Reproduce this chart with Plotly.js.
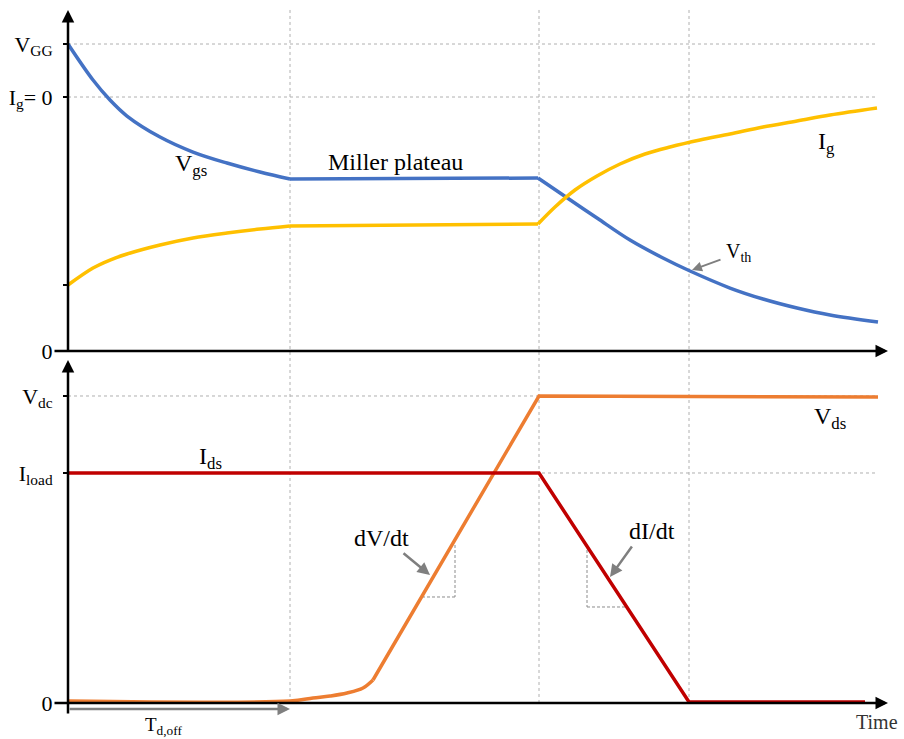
<!DOCTYPE html>
<html>
<head>
<meta charset="utf-8">
<script src="https://cdn.plot.ly/plotly-3.0.1.min.js"></script>
<style>html,body{margin:0;padding:0;background:#fff;}#chart{width:904px;height:739px;}</style>
</head>
<body>
<div id="chart"></div>
<script>
// ---- data (time units, values in arbitrary units) ----
const vgsT = [0,25,42,59,92,125,159,192,222,470,495,529,562,595,622,662,695,729,762,810];
const vgsV = [307,271,251,235,214,199,188,179,172,173,156,133,111,93,80,63,52,43,36,29];
const igT  = [0,25,42,59,92,125,159,192,222,470,487,507,529,552,577,602,632,662,695,729,762,809];
const igV  = [66,83,91,97,106,113,118,122,125,127,144,161,175,187,197,204,211,217,224,230,236,243];
const vdsT = [0,222,245,262,279,295,305,471,810];
const vdsV = [2,2,5,7,10,15,23,307,306];
const idsT = [0,471,621,797];
const idsV = [230,230,1,1];
const phaseT = [222,471,621];          // t1, t2, t3 boundaries
const topTickVals = [0,66,254,307];
const topTickText = ['0','','I<sub>g</sub>= 0','V<sub>GG</sub>'];
const botTickVals = [0,230,307];
const botTickText = ['0','I<sub>load</sub>','V<sub>dc</sub>'];
const VGG = 307, IG0 = 254, VDC = 307, ILOAD = 230;

const FONT = '"Liberation Serif", "Times New Roman", serif';
const C_VGS = '#4472C4', C_IG = '#FFC000', C_VDS = '#ED7D31', C_IDS = '#C00000';
const LW = 3.5;

function seg(t, v, a, b, shape, color, ya) {
  return {x: t.slice(a, b + 1), y: v.slice(a, b + 1), type: 'scatter', mode: 'lines',
    line: {color: color, width: LW, shape: shape, smoothing: 1}, yaxis: ya, xaxis: 'x',
    hoverinfo: 'skip', showlegend: false};
}

const traces = [
  seg(vgsT, vgsV, 0, 8, 'spline', C_VGS, 'y'),
  seg(vgsT, vgsV, 8, 9, 'linear', C_VGS, 'y'),
  seg(vgsT, vgsV, 9, vgsT.length - 1, 'spline', C_VGS, 'y'),
  seg(igT, igV, 0, 8, 'spline', C_IG, 'y'),
  seg(igT, igV, 8, 9, 'linear', C_IG, 'y'),
  seg(igT, igV, 9, igT.length - 1, 'spline', C_IG, 'y'),
  seg(vdsT, vdsV, 0, 6, 'spline', C_VDS, 'y2'),
  seg(vdsT, vdsV, 6, vdsT.length - 1, 'linear', C_VDS, 'y2'),
  seg(idsT, idsV, 0, idsT.length - 1, 'linear', C_IDS, 'y2')
];

const guide = {color: '#b0b0b0', width: 1, dash: '3px,3px'};
const tri = {color: '#8c8c8c', width: 1, dash: '3px,2px'};
const shapes = [];
phaseT.forEach(t => shapes.push({type: 'line', xref: 'x', yref: 'paper', x0: t, x1: t, y0: 0.0238, y1: 0.995, line: guide, layer: 'below'}));
shapes.push({type: 'line', xref: 'x', yref: 'y', x0: 0, x1: 809, y0: VGG, y1: VGG, line: guide, layer: 'below'});
shapes.push({type: 'line', xref: 'x', yref: 'y', x0: 0, x1: 809, y0: IG0, y1: IG0, line: guide, layer: 'below'});
shapes.push({type: 'line', xref: 'x', yref: 'y2', x0: 0, x1: 809, y0: VDC, y1: VDC, line: guide, layer: 'below'});
shapes.push({type: 'line', xref: 'x', yref: 'y2', x0: 0, x1: 809, y0: ILOAD, y1: ILOAD, line: guide, layer: 'below'});
// slope triangles
shapes.push({type: 'line', xref: 'x', yref: 'y2', x0: 387, x1: 387, y0: 158, y1: 106, line: tri, layer: 'below'});
shapes.push({type: 'line', xref: 'x', yref: 'y2', x0: 354, x1: 387, y0: 106, y1: 106, line: tri, layer: 'below'});
shapes.push({type: 'line', xref: 'x', yref: 'y2', x0: 519, x1: 519, y0: 153, y1: 96, line: tri, layer: 'below'});
shapes.push({type: 'line', xref: 'x', yref: 'y2', x0: 519, x1: 557, y0: 96, y1: 96, line: tri, layer: 'below'});

function txt(x, y, yref, text, size, extra) {
  return Object.assign({x: x, y: y, xref: 'x', yref: yref, text: text, showarrow: false,
    font: {family: FONT, size: size, color: '#000'}, xanchor: 'center', yanchor: 'middle'}, extra || {});
}
function arrow(x, y, ax, ay, yref, color, w) {
  return {x: x, y: y, ax: ax, ay: ay, xref: 'x', yref: yref, axref: 'x', ayref: yref, text: '',
    showarrow: true, arrowhead: 2, arrowsize: 1, arrowwidth: w, arrowcolor: color, standoff: 0, startstandoff: 0};
}
function axisArrow(x, y, xref, yref, ax, ay) {
  return {x: x, y: y, xref: xref, yref: yref, axref: 'pixel', ayref: 'pixel', ax: ax, ay: ay, text: '',
    showarrow: true, arrowhead: 2, arrowsize: 1, arrowwidth: 2.5, arrowcolor: '#000', standoff: 0, startstandoff: 0};
}

const annotations = [
  // axes
  axisArrow(0, 0.9930, 'paper', 'paper', 0, 342),
  axisArrow(0, 0.5035, 'paper', 'paper', 0, 355),
  axisArrow(1, 0, 'paper', 'y', -835, 0),
  axisArrow(1, 0, 'paper', 'y2', -835, 0),
  // labels
  txt(123, 186, 'y', 'V<sub>gs</sub>', 24),
  txt(327, 189, 'y', 'Miller plateau', 24),
  txt(758, 208, 'y', 'I<sub>g</sub>', 24),
  txt(670, 99, 'y', 'V<sub>th</sub>', 20),
  arrow(624, 81, 654, 92, 'y', '#7f7f7f', 2),
  txt(142, 245, 'y2', 'I<sub>ds</sub>', 24),
  txt(762, 285, 'y2', 'V<sub>ds</sub>', 24),
  txt(313, 165, 'y2', 'dV/dt', 24),
  arrow(362, 128, 334, 151, 'y2', '#7f7f7f', 2.5),
  txt(584, 172, 'y2', 'dI/dt', 24),
  arrow(542, 126, 565, 158, 'y2', '#7f7f7f', 2.5),
  arrow(222, -6, 0, -6, 'y2', '#7f7f7f', 2.5),
  txt(95, -9, 'y2', 'T<sub>d,off</sub>', 19, {yanchor: 'top'}),
  txt(809, -6, 'y2', 'Time', 20, {yanchor: 'top', font: {family: FONT, size: 20, color: '#333'}})
];

const yCommon = {showgrid: false, zeroline: false, showline: false, ticks: 'outside', ticklen: 4,
  tickwidth: 2, tickcolor: '#000', tickfont: {family: FONT, size: 22, color: '#000'},
  ticklabelstandoff: 6, tickmode: 'array', fixedrange: true};

const layout = {
  width: 904, height: 739,
  margin: {l: 68, r: 16, t: 5, b: 19},
  paper_bgcolor: '#fff', plot_bgcolor: 'rgba(0,0,0,0)',
  showlegend: false,
  xaxis: {range: [0, 820], showgrid: false, zeroline: false, showline: false, showticklabels: false, ticks: '', fixedrange: true},
  yaxis: Object.assign({}, yCommon, {domain: [0.505, 1], range: [-7.9, 346], tickvals: topTickVals, ticktext: topTickText}),
  yaxis2: Object.assign({}, yCommon, {domain: [0, 0.5035], range: [-17, 343], tickvals: botTickVals, ticktext: botTickText}),
  shapes: shapes,
  annotations: annotations
};

Plotly.newPlot('chart', traces, layout, {displayModeBar: false, staticPlot: true});
</script>
</body>
</html>
